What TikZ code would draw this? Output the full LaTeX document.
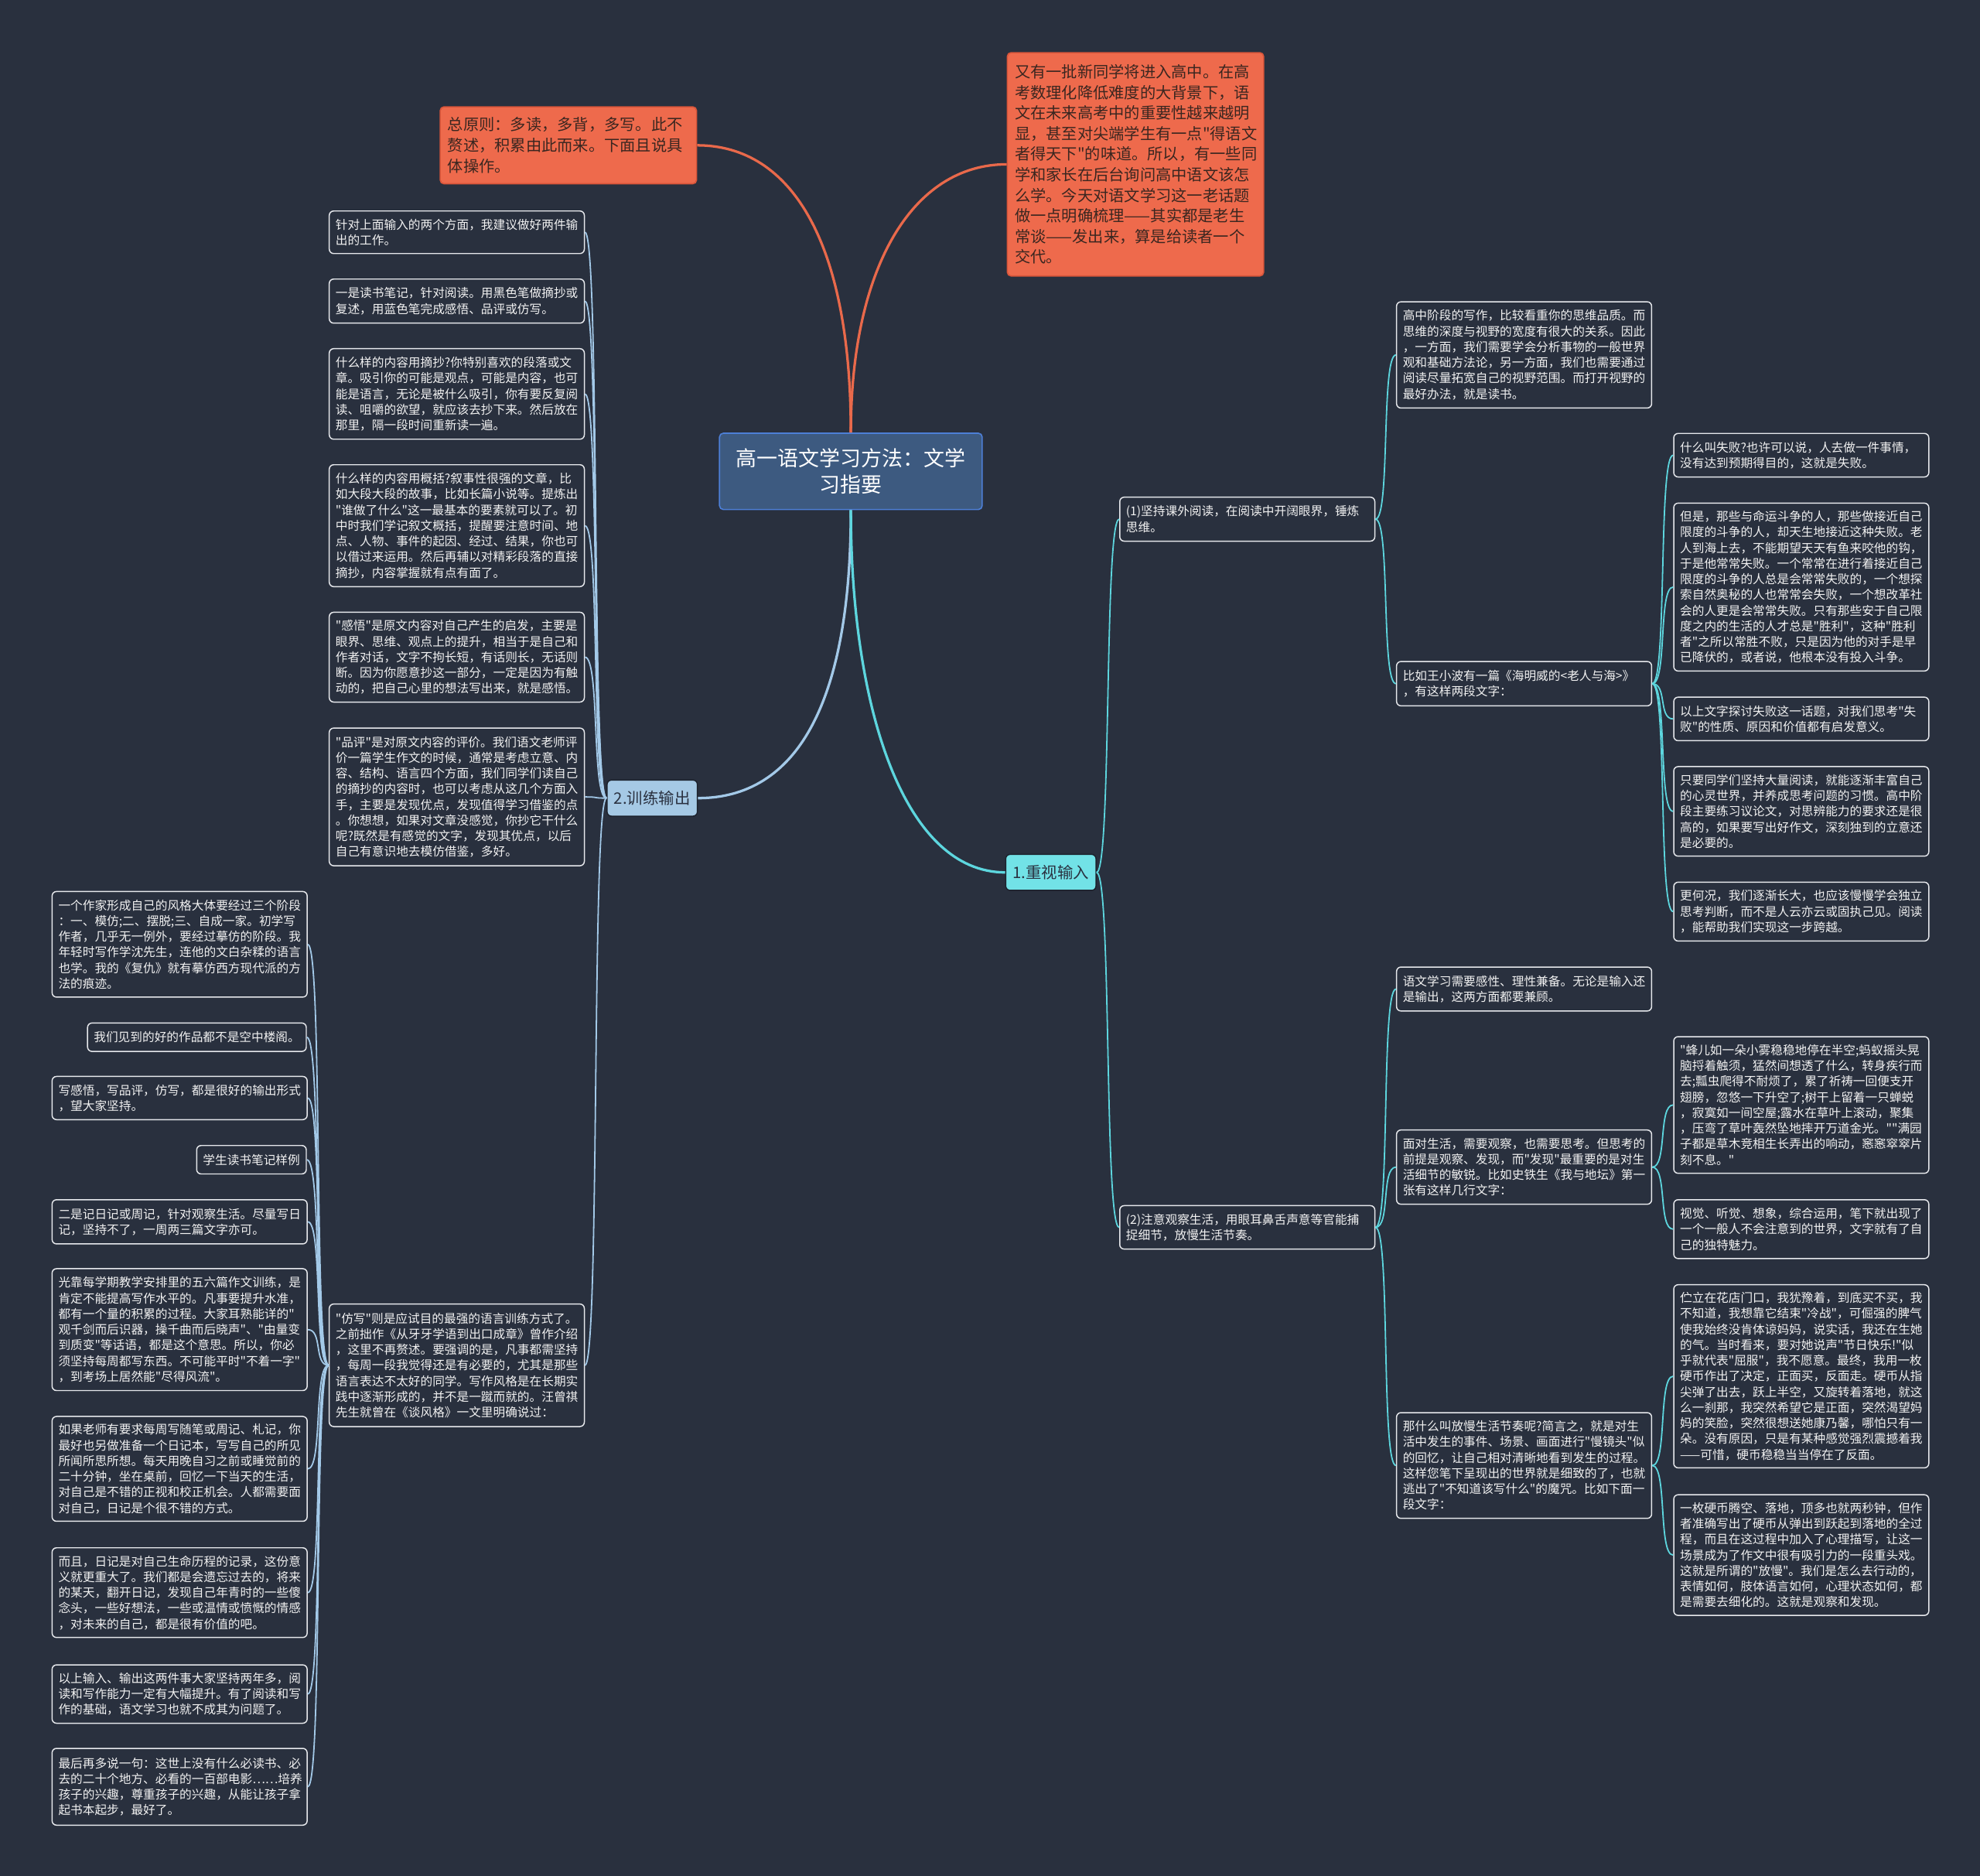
\documentclass[tikz,border=0pt]{standalone}
\usepackage{fontspec}
\newfontfamily\cjkf{Noto Sans CJK SC}
\definecolor{bgc}{HTML}{29303E}
\definecolor{leafline}{HTML}{E6E8EC}
\definecolor{leaftext}{HTML}{F2F2F2}
\definecolor{orangefill}{HTML}{EE6A4C}
\definecolor{orangeborder}{HTML}{D9553A}
\definecolor{orangetext}{HTML}{3A2620}
\definecolor{orangeline}{HTML}{E9694B}
\definecolor{rootfill}{HTML}{3D5A80}
\definecolor{rootborder}{HTML}{4D7FD6}
\definecolor{btwofill}{HTML}{A5C9E5}
\definecolor{bonefill}{HTML}{72E2E7}
\definecolor{branchtext}{HTML}{2A3140}
\definecolor{darkedge}{HTML}{1C222D}
\definecolor{lline}{HTML}{A3C9E8}
\definecolor{rline}{HTML}{5DD6DE}
\tikzset{
  leafbase/.style={draw=leafline, fill=bgc, rounded corners=3.5pt, line width=0.9pt, text=leaftext,
    font=\cjkf\fontsize{9.6pt}{12.4pt}\selectfont, align=left, inner xsep=5pt, inner ysep=1pt},
  leaf/.style={leafbase, text width=192pt, anchor=north west},
  leafs/.style={leafbase, anchor=north east},
  orng/.style={draw=orangeborder, fill=orangefill, rounded corners=3pt, line width=1pt, text=orangetext,
    font=\cjkf\fontsize{12.4pt}{16.3pt}\selectfont, align=left, text width=191pt, inner xsep=6pt, anchor=north west},
  rootbox/.style={draw=rootborder, fill=rootfill, rounded corners=3pt, line width=1pt, text=white,
    font=\cjkf\fontsize{16.5pt}{20.6pt}\selectfont, align=center, text width=196pt, inner xsep=6pt, minimum height=60.4pt},
  btwo/.style={draw=darkedge, fill=btwofill, rounded corners=3.5pt, line width=0.9pt, text=branchtext,
    font=\cjkf\fontsize{12.5pt}{14pt}\selectfont, minimum width=71.5pt, minimum height=28.6pt, inner sep=0pt},
  bone/.style={draw=darkedge, fill=bonefill, rounded corners=3.5pt, line width=0.9pt, text=branchtext,
    font=\cjkf\fontsize{12.5pt}{14pt}\selectfont, minimum width=71.5pt, minimum height=28.5pt, inner sep=0pt},
  othick/.style={draw=orangeline, line width=2pt},
  lthick/.style={draw=lline, line width=2pt},
  rthick/.style={draw=rline, line width=2pt},
  lthin/.style={draw=lline, line width=1.1pt},
  rthin/.style={draw=rline, line width=1.1pt},
}
\newcommand\rlink[2]{\draw[rthin] (#1.east) .. controls +(12,0) and +(-12,0) .. (#2.west);}
\newcommand\llink[2]{\draw[lthin] (#1.west) .. controls +(-12,0) and +(12,0) .. (#2.east);}
\begin{document}
\begin{tikzpicture}[x=1pt,y=-1pt]
\fill[bgc] (0,0) rectangle (1568,1485);
\useasboundingbox (0,0) rectangle (1568,1485);

% top orange nodes
\node[orng, minimum height=60.9pt] (O1) at (348.1,84.1) {总原则：多读，多背，多写。此不\\赘述，积累由此而来。下面且说具\\体操作。};
\node[orng, minimum height=176.8pt] (O2) at (797.2,41.2) {又有一批新同学将进入高中。在高\\考数理化降低难度的大背景下，语\\文在未来高考中的重要性越来越明\\显，甚至对尖端学生有一点"得语文\\者得天下"的味道。所以，有一些同\\学和家长在后台询问高中语文该怎\\么学。今天对语文学习这一老话题\\做一点明确梳理——其实都是老生\\常谈——发出来，算是给读者一个\\交代。};

% root and branches
\node[rootbox] (root) at (673.8,373.2) {高一语文学习方法：文学\\习指要};
\node[btwo] (B2) at (516.5,631.9) {2.训练输出};
\node[bone] (B1) at (832.2,690.7) {1.重视输入};

% left column
\node[leaf, minimum height=33.7pt] (L1) at (260.3,166.6) {针对上面输入的两个方面，我建议做好两件输\\出的工作。};
\node[leaf, minimum height=34.9pt] (L2) at (260.3,220.5) {一是读书笔记，针对阅读。用黑色笔做摘抄或\\复述，用蓝色笔完成感悟、品评或仿写。};
\node[leaf, minimum height=71.7pt] (L3) at (260.3,275.6) {什么样的内容用摘抄?你特别喜欢的段落或文\\章。吸引你的可能是观点，可能是内容，也可\\能是语言，无论是被什么吸引，你有要反复阅\\读、咀嚼的欲望，就应该去抄下来。然后放在\\那里，隔一段时间重新读一遍。};
\node[leaf, minimum height=96.5pt] (L4) at (260.3,367.5) {什么样的内容用概括?叙事性很强的文章，比\\如大段大段的故事，比如长篇小说等。提炼出\\"谁做了什么"这一最基本的要素就可以了。初\\中时我们学记叙文概括，提醒要注意时间、地\\点、人物、事件的起因、经过、结果，你也可\\以借过来运用。然后再辅以对精彩段落的直接\\摘抄，内容掌握就有点有面了。};
\node[leaf, minimum height=71.1pt] (L5) at (260.3,484.3) {"感悟"是原文内容对自己产生的启发，主要是\\眼界、思维、观点上的提升，相当于是自己和\\作者对话，文字不拘长短，有话则长，无话则\\断。因为你愿意抄这一部分，一定是因为有触\\动的，把自己心里的想法写出来，就是感悟。};
\node[leaf, minimum height=109pt] (L6) at (260.3,576) {"品评"是对原文内容的评价。我们语文老师评\\价一篇学生作文的时候，通常是考虑立意、内\\容、结构、语言四个方面，我们同学们读自己\\的摘抄的内容时，也可以考虑从这几个方面入\\手，主要是发现优点，发现值得学习借鉴的点\\。你想想，如果对文章没感觉，你抄它干什么\\呢?既然是有感觉的文字，发现其优点，以后\\自己有意识地去模仿借鉴，多好。};
\node[leaf, minimum height=97pt] (L7) at (260.3,1032) {"仿写"则是应试目的最强的语言训练方式了。\\之前拙作《从牙牙学语到出口成章》曾作介绍\\，这里不再赘述。要强调的是，凡事都需坚持\\，每周一段我觉得还是有必要的，尤其是那些\\语言表达不太好的同学。写作风格是在长期实\\践中逐渐形成的，并不是一蹴而就的。汪曾祺\\先生就曾在《谈风格》一文里明确说过：};

% far left column
\node[leaf, minimum height=83.6pt] (C1) at (40.8,705.4) {一个作家形成自己的风格大体要经过三个阶段\\：一、模仿;二、摆脱;三、自成一家。初学写\\作者，几乎无一例外，要经过摹仿的阶段。我\\年轻时写作学沈先生，连他的文白杂糅的语言\\也学。我的《复仇》就有摹仿西方现代派的方\\法的痕迹。};
\node[leafs, minimum height=22.5pt] (C2) at (243,809.5) {我们见到的好的作品都不是空中楼阁。};
\node[leaf, minimum height=34.2pt] (C3) at (40.8,851.8) {写感悟，写品评，仿写，都是很好的输出形式\\，望大家坚持。};
\node[leafs, minimum height=22.5pt] (C4) at (243,906.5) {学生读书笔记样例};
\node[leaf, minimum height=35pt] (C5) at (40.8,949.4) {二是记日记或周记，针对观察生活。尽量写日\\记，坚持不了，一周两三篇文字亦可。};
\node[leaf, minimum height=96.5pt] (C6) at (40.8,1004) {光靠每学期教学安排里的五六篇作文训练，是\\肯定不能提高写作水平的。凡事要提升水准，\\都有一个量的积累的过程。大家耳熟能详的"\\观千剑而后识器，操千曲而后晓声"、"由量变\\到质变"等话语，都是这个意思。所以，你必\\须坚持每周都写东西。不可能平时"不着一字"\\，到考场上居然能"尽得风流"。};
\node[leaf, minimum height=83pt] (C7) at (40.8,1121) {如果老师有要求每周写随笔或周记、札记，你\\最好也另做准备一个日记本，写写自己的所见\\所闻所思所想。每天用晚自习之前或睡觉前的\\二十分钟，坐在桌前，回忆一下当天的生活，\\对自己是不错的正视和校正机会。人都需要面\\对自己，日记是个很不错的方式。};
\node[leaf, minimum height=71pt] (C8) at (40.8,1225) {而且，日记是对自己生命历程的记录，这份意\\义就更重大了。我们都是会遗忘过去的，将来\\的某天，翻开日记，发现自己年青时的一些傻\\念头，一些好想法，一些或温情或愤慨的情感\\，对未来的自己，都是很有价值的吧。};
\node[leaf, minimum height=46.2pt] (C9) at (40.8,1317.7) {以上输入、输出这两件事大家坚持两年多，阅\\读和写作能力一定有大幅提升。有了阅读和写\\作的基础，语文学习也就不成其为问题了。};
\node[leaf, minimum height=60.8pt] (C10) at (40.8,1383.8) {最后再多说一句：这世上没有什么必读书、必\\去的二十个地方、必看的一百部电影……培养\\孩子的兴趣，尊重孩子的兴趣，从能让孩子拿\\起书本起步，最好了。};

% right side
\node[leaf, minimum height=34.8pt] (P1) at (886.3,393.2) {(1)坚持课外阅读，在阅读中开阔眼界，锤炼\\思维。};
\node[leaf, minimum height=84.1pt] (R1a) at (1105.5,238.5) {高中阶段的写作，比较看重你的思维品质。而\\思维的深度与视野的宽度有很大的关系。因此\\，一方面，我们需要学会分析事物的一般世界\\观和基础方法论，另一方面，我们也需要通过\\阅读尽量拓宽自己的视野范围。而打开视野的\\最好办法，就是读书。};
\node[leaf, minimum height=35.1pt] (R1b) at (1105.5,523.3) {比如王小波有一篇《海明威的<老人与海>》\\，有这样两段文字：};
\node[leaf, minimum height=34.5pt] (R1b1) at (1325,342.7) {什么叫失败?也许可以说，人去做一件事情，\\没有达到预期得目的，这就是失败。};
\node[leaf, minimum height=132.9pt] (R1b2) at (1325,397.9) {但是，那些与命运斗争的人，那些做接近自己\\限度的斗争的人，却天生地接近这种失败。老\\人到海上去，不能期望天天有鱼来咬他的钩，\\于是他常常失败。一个常常在进行着接近自己\\限度的斗争的人总是会常常失败的，一个想探\\索自然奥秘的人也常常会失败，一个想改革社\\会的人更是会常常失败。只有那些安于自己限\\度之内的生活的人才总是"胜利"，这种"胜利\\者"之所以常胜不败，只是因为他的对手是早\\已降伏的，或者说，他根本没有投入斗争。};
\node[leaf, minimum height=34.5pt] (R1b3) at (1325,551.5) {以上文字探讨失败这一话题，对我们思考"失\\败"的性质、原因和价值都有启发意义。};
\node[leaf, minimum height=70.9pt] (R1b4) at (1325,606.5) {只要同学们坚持大量阅读，就能逐渐丰富自己\\的心灵世界，并养成思考问题的习惯。高中阶\\段主要练习议论文，对思辨能力的要求还是很\\高的，如果要写出好作文，深刻独到的立意还\\是必要的。};
\node[leaf, minimum height=46.6pt] (R1b5) at (1325,698) {更何况，我们逐渐长大，也应该慢慢学会独立\\思考判断，而不是人云亦云或固执己见。阅读\\，能帮助我们实现这一步跨越。};

\node[leaf, minimum height=34.4pt] (P2) at (886.3,954.1) {(2)注意观察生活，用眼耳鼻舌声意等官能捕\\捉细节，放慢生活节奏。};
\node[leaf, minimum height=34.8pt] (R2a) at (1105.5,765.2) {语文学习需要感性、理性兼备。无论是输入还\\是输出，这两方面都要兼顾。};
\node[leaf, minimum height=58.8pt] (R2b) at (1105.5,894.2) {面对生活，需要观察，也需要思考。但思考的\\前提是观察、发现，而"发现"最重要的是对生\\活细节的敏锐。比如史铁生《我与地坛》第一\\张有这样几行文字：};
\node[leaf, minimum height=83.7pt] (R2c) at (1105.5,1118) {那什么叫放慢生活节奏呢?简言之，就是对生\\活中发生的事件、场景、画面进行"慢镜头"似\\的回忆，让自己相对清晰地看到发生的过程。\\这样您笔下呈现出的世界就是细致的了，也就\\逃出了"不知道该写什么"的魔咒。比如下面一\\段文字：};
\node[leaf, minimum height=108.2pt] (R2b1) at (1325,820.3) {"蜂儿如一朵小雾稳稳地停在半空;蚂蚁摇头晃\\脑捋着触须，猛然间想透了什么，转身疾行而\\去;瓢虫爬得不耐烦了，累了祈祷一回便支开\\翅膀，忽悠一下升空了;树干上留着一只蝉蜕\\，寂寞如一间空屋;露水在草叶上滚动，聚集\\，压弯了草叶轰然坠地摔开万道金光。""满园\\子都是草木竞相生长弄出的响动，窸窸窣窣片\\刻不息。"};
\node[leaf, minimum height=46.6pt] (R2b2) at (1325,949.4) {视觉、听觉、想象，综合运用，笔下就出现了\\一个一般人不会注意到的世界，文字就有了自\\己的独特魅力。};
\node[leaf, minimum height=145pt] (R2c1) at (1325,1016.7) {伫立在花店门口，我犹豫着，到底买不买，我\\不知道，我想靠它结束"冷战"，可倔强的脾气\\使我始终没肯体谅妈妈，说实话，我还在生她\\的气。当时看来，要对她说声"节日快乐!"似\\乎就代表"屈服"，我不愿意。最终，我用一枚\\硬币作出了决定，正面买，反面走。硬币从指\\尖弹了出去，跃上半空，又旋转着落地，就这\\么一刹那，我突然希望它是正面，突然渴望妈\\妈的笑脸，突然很想送她康乃馨，哪怕只有一\\朵。没有原因，只是有某种感觉强烈震撼着我\\——可惜，硬币稳稳当当停在了反面。};
\node[leaf, minimum height=95.5pt] (R2c2) at (1325,1183) {一枚硬币腾空、落地，顶多也就两秒钟，但作\\者准确写出了硬币从弹出到跃起到落地的全过\\程，而且在这过程中加入了心理描写，让这一\\场景成为了作文中很有吸引力的一段重头戏。\\这就是所谓的"放慢"。我们是怎么去行动的，\\表情如何，肢体语言如何，心理状态如何，都\\是需要去细化的。这就是观察和发现。};

% main connectors
\draw[othick] (root.north) .. controls +(0,-150) and +(75,0) .. (O1.east);
\draw[othick] (root.north) .. controls +(0,-130) and +(-75,0) .. (O2.west);
\draw[lthick] (root.south) .. controls +(0,140) and +(85,0) .. (B2.east);
\draw[rthick] (root.south) .. controls +(0,157) and +(-80,0) .. (B1.west);

% left links
\foreach \n in {L1,L2,L3,L4,L5,L6,L7} {\llink{B2}{\n}}
\foreach \n in {C1,C2,C3,C4,C5,C6,C7,C8,C9,C10} {\llink{L7}{\n}}

% right links
\rlink{B1}{P1}
\rlink{B1}{P2}
\rlink{P1}{R1a}
\rlink{P1}{R1b}
\foreach \n in {R1b1,R1b2,R1b3,R1b4,R1b5} {\rlink{R1b}{\n}}
\rlink{P2}{R2a}
\rlink{P2}{R2b}
\rlink{P2}{R2c}
\rlink{R2b}{R2b1}
\rlink{R2b}{R2b2}
\rlink{R2c}{R2c1}
\rlink{R2c}{R2c2}
\end{tikzpicture}
\end{document}
